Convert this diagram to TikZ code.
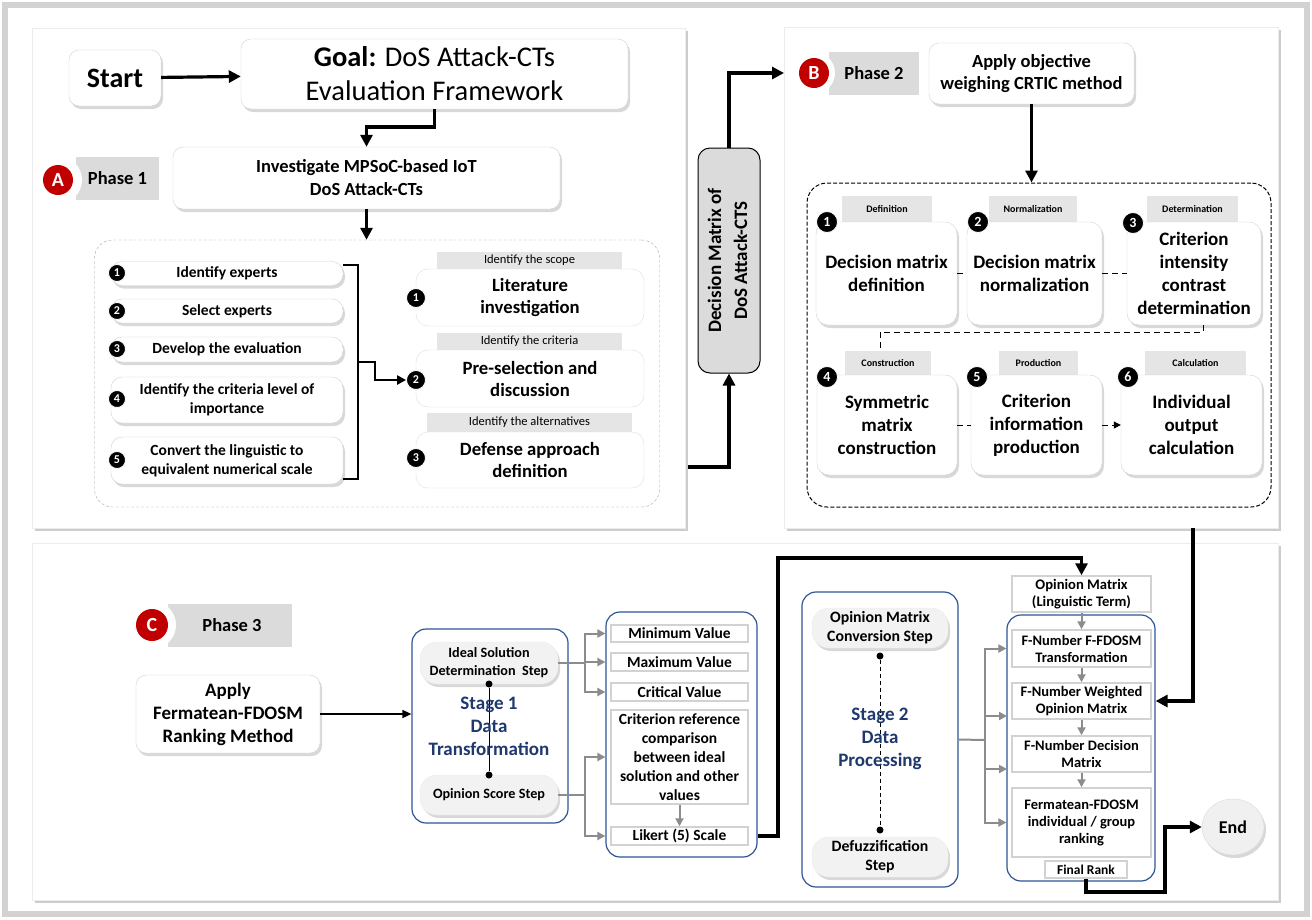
\documentclass[tikz,border=0pt]{standalone}
\usepackage{fontspec}
\setmainfont{Carlito}
\usetikzlibrary{arrows.meta,shadows,shapes.geometric}
\definecolor{redc}{RGB}{192,0,0}
\definecolor{bluec}{RGB}{47,85,151}
\definecolor{bluetxt}{RGB}{31,56,110}
\definecolor{arrgray}{RGB}{140,140,140}
\newcommand{\fsz}[2]{\fontsize{#1}{#2}\selectfont}
\begin{document}
\begin{tikzpicture}[x=1pt,y=-1pt,
  shd/.style={drop shadow={shadow xshift=2pt,shadow yshift=-3pt,opacity=0.3}},
  panel/.style={draw=gray!15,fill=white,inner sep=0,drop shadow={shadow xshift=3pt,shadow yshift=-3pt,opacity=0.4}},
  rbox/.style={draw=gray!35,fill=white,rounded corners=10pt,inner sep=0,align=center,shd},
  lbox/.style={draw=gray!25,fill=white,rounded corners=12pt,inner sep=0,align=center,font=\bfseries\fsz{18.7}{22},minimum width=228,minimum height=57},
  pill/.style={draw=gray!35,fill=white,rounded corners=11pt,inner sep=0,align=center,shd,minimum width=232,font=\bfseries\fsz{15.5}{19}},
  tabA/.style={fill=gray!20,inner sep=0,font=\fsz{12.5}{13}},
  tabB/.style={fill=gray!20,inner sep=0,font=\bfseries\fsz{10}{11}},
  phtab/.style={fill=gray!28,inner sep=0,font=\bfseries\fsz{18.5}{20}},
  redcirc/.style={circle,fill=redc,text=white,inner sep=0,minimum size=30,font=\bfseries\fsz{20}{20}},
  numa/.style={circle,fill=black,draw=white,line width=0.8,text=white,inner sep=0,minimum size=#1,font=\bfseries\fsz{12}{12}},
  cbox/.style={draw=gray!35,fill=white,rounded corners=12pt,inner sep=0,align=center,shd,font=\bfseries\fsz{19}{23}},
  bluebx/.style={draw=bluec,line width=1.2,rounded corners=14pt,fill=white,inner sep=0},
  spill/.style={fill=gray!10,draw=gray!15,rounded corners=17pt,inner sep=0,align=center,shd},
  vbox/.style={draw=gray!35,line width=1.5,fill=white,inner sep=0,align=center,font=\bfseries\fsz{15.5}{19}},
  stg/.style={font=\bfseries\fsz{19}{23},text=bluetxt,align=center,inner sep=0},
  dotn/.style={circle,fill=black,inner sep=0,minimum size=7},
  thk/.style={line width=3.2,-{Triangle[length=12pt,width=12pt]}},
  brk/.style={line width=2},
  garr/.style={draw=arrgray,line width=2,-{Triangle[length=8pt,width=8pt]}},
  gln/.style={draw=arrgray,line width=2},
  dsh/.style={dashed,line width=1,dash pattern=on 6pt off 4pt}
]
% background and outer frame
\fill[white] (0,0) rectangle (1312,919);
\draw[gray!35,line width=6] (5,5) rectangle (1307,914);
\useasboundingbox (0,0) rectangle (1312,919);

% panels
\node[panel,minimum width=653,minimum height=500] (pA) at (358.5,278) {};
\node[panel,minimum width=494,minimum height=501] (pB) at (1031,277.5) {};
\node[panel,minimum width=1246,minimum height=357] (pC) at (655,721.5) {};

% ---------------- Phase 1 ----------------
\node[rbox,minimum width=92,minimum height=56,font=\bfseries\fsz{28}{30}] (start) at (115,78) {Start};
\node[rbox,minimum width=387,minimum height=70,font=\fsz{28.5}{34}] (goal) at (434.5,74) {\textbf{Goal:} DoS Attack-CTs\\Evaluation Framework};
\draw[thk] (start) -- (goal);
\node[rbox,minimum width=387,minimum height=62,font=\bfseries\fsz{18.5}{23}] (inv) at (366.5,178) {Investigate MPSoC-based IoT\\DoS Attack-CTs};
\coordinate (gk) at (366.5,127);
\draw[thk] (goal.south) |- (gk) -- (inv.north);

\node[phtab,minimum width=83,minimum height=43] (tabA) at (117.5,178.5) {Phase 1};
\fill[white] (58,180) circle (24);
\node[redcirc] (cA) at (58,180) {A};

\node[draw=gray!70,densely dashed,rounded corners=18pt,minimum width=565,minimum height=267,inner sep=0] (dcA) at (377,373.5) {};
\draw[thk] (inv.south) -- (inv.south |- dcA.north);

\node[pill,minimum height=24] (l1) at (227,273.5) {Identify experts};
\node[pill,minimum height=24] (l2) at (227,311) {Select experts};
\node[pill,minimum height=25] (l3) at (227,349.5) {Develop the evaluation};
\node[pill,minimum height=46] (l4) at (227,400) {Identify the criteria level of\\importance};
\node[pill,minimum height=47] (l5) at (227,460.5) {Convert the linguistic to\\equivalent numerical scale};
\node[numa=17] (n1) at (117,273) {1};
\node[numa=17] (n2) at (117,311) {2};
\node[numa=17] (n3) at (117,349) {3};
\node[numa=17] (n4) at (117,399) {4};
\node[numa=17] (n5) at (117,460) {5};

\coordinate (bt) at (358,265);
\coordinate (bb) at (358,479);
\coordinate (bm) at (358,362);
\coordinate (bk) at (375,362);
\draw[brk] (l1.east |- bt) -- (bt) -- (bb) -- (l5.east |- bb);

\node[tabA,minimum width=185,minimum height=17] (t1) at (529.5,260.5) {Identify the scope};
\node[lbox] (r1) at (530,297.5) {Literature\\investigation};
\node[tabA,minimum width=185,minimum height=17] (t2) at (529.5,341.5) {Identify the criteria};
\node[lbox] (r2) at (530,378.5) {Pre-selection and\\discussion};
\node[tabA,minimum width=205,minimum height=19] (t3) at (529.5,422.5) {Identify the alternatives};
\node[lbox,minimum height=56] (r3) at (530,460) {Defense approach\\definition};
\node[numa=19] (m1) at (416,298) {1};
\node[numa=19] (m2) at (416,380) {2};
\node[numa=19] (m3) at (416,458) {3};
\draw[line width=2.4,-{Triangle[length=9pt,width=9pt]}] (bm) -- (bk) |- (m2.west);

% Decision matrix box
\node[draw=black,line width=1,fill=gray!28,rounded corners=12pt,minimum width=62,minimum height=225,inner sep=0] (dm) at (729,260.5)
  {\rotatebox{90}{\bfseries\fsz{19}{26}\begin{tabular}{@{}c@{}}Decision Matrix of\\DoS Attack-CTS\end{tabular}}};
\coordinate (aout) at (688,467);
\coordinate (bin) at (784,73);
\draw[thk] (aout) -| (dm.south);
\draw[thk] (dm.north) |- (bin);

% ---------------- Phase 2 ----------------
\node[phtab,minimum width=90,minimum height=43] (tabB) at (874,73.5) {Phase 2};
\fill[white] (814,73) circle (21);
\node[redcirc] (cB) at (814,73) {B};
\node[rbox,minimum width=205,minimum height=61,font=\bfseries\fsz{18.5}{22}] (obj) at (1031.5,73.5) {Apply objective\\weighing CRTIC method};
\node[draw=black,line width=1,dash pattern=on 4pt off 2pt,rounded corners=20pt,minimum width=464,minimum height=324,inner sep=0] (dcB) at (1039,345) {};
\draw[thk] (obj.south) -- (obj.south |- dcB.north);

\node[tabB,minimum width=90,minimum height=26] (tb1) at (887,209) {Definition};
\node[tabB,minimum width=88,minimum height=26] (tb2) at (1033,209) {Normalization};
\node[tabB,minimum width=91,minimum height=26] (tb3) at (1192.5,209) {Determination};
\node[cbox,minimum width=141,minimum height=103] (b1) at (886.5,273.5) {Decision matrix\\definition};
\node[cbox,minimum width=135,minimum height=103] (b2) at (1034.5,273.5) {Decision matrix\\normalization};
\node[cbox,minimum width=134,minimum height=103] (b3) at (1194,273.5) {Criterion\\intensity\\contrast\\determination};
\node[tabB,minimum width=86,minimum height=24] (tb4) at (888,363) {Construction};
\node[tabB,minimum width=79,minimum height=24] (tb5) at (1038.5,363) {Production};
\node[tabB,minimum width=101,minimum height=24] (tb6) at (1195.5,363) {Calculation};
\node[cbox,minimum width=140,minimum height=100] (b4) at (887,425) {Symmetric\\matrix\\construction};
\node[cbox,minimum width=131,minimum height=100] (b5) at (1036.5,425) {Criterion\\information\\production};
\node[cbox,minimum width=141,minimum height=100] (b6) at (1191.5,425) {Individual\\output\\calculation};
\node[numa=21,font=\bfseries\fsz{14}{14}] (k1n) at (827,222) {1};
\node[numa=21,font=\bfseries\fsz{14}{14}] (k2n) at (978,222) {2};
\node[numa=21,font=\bfseries\fsz{14}{14}] (k3n) at (1133,223) {3};
\node[numa=21,font=\bfseries\fsz{14}{14}] (k4n) at (827,377) {4};
\node[numa=21,font=\bfseries\fsz{14}{14}] (k5n) at (977,377) {5};
\node[numa=21,font=\bfseries\fsz{14}{14}] (k6n) at (1128,377) {6};

\draw[dsh] (b1.east) -- (b2.west);
\draw[dsh] (b2.east) -- (b3.west);
\coordinate (q1) at (1203,332);
\coordinate (q2) at (880,332);
\draw[dsh] (b3.south -| q1) -- (q1) -- (q2) -- (q2 |- tb4.north);
\draw[dsh] (b4.east) -- (b5.west);
\draw[dsh,-{Triangle[length=7pt,width=7pt]}] (b5.east) -- (b6.west);

% ---------------- Phase 3 ----------------
\node[phtab,minimum width=124,minimum height=43] (tabC) at (230,625.5) {\hspace*{4pt}Phase 3};
\fill[white] (152,625) circle (24);
\node[redcirc,minimum size=32] (cC) at (152,625) {C};

\node[rbox,minimum width=184,minimum height=78,font=\bfseries\fsz{19}{23}] (fer) at (228,714) {Apply\\Fermatean-FDOSM\\Ranking Method};

% Stage 1
\node[bluebx,minimum width=156,minimum height=194] (s1) at (490,726) {};
\draw[line width=1.6,-{Triangle[length=9pt,width=8pt]}] (fer.east) -- (fer.east -| s1.west);
\node[spill,minimum width=138,minimum height=42,font=\bfseries\fsz{14.2}{18}] (is) at (489,663) {Ideal Solution\\Determination\ \ Step};
\node[spill,minimum width=138,minimum height=40,font=\bfseries\fsz{14.2}{18}] (os) at (489,795) {Opinion Score Step};
\node[dotn] (d1) at (489,684) {};
\node[dotn] (d2) at (489,775) {};
\draw[line width=0.8] (d1) -- (d2);
\node[stg] (st1) at (489,726) {Stage 1\\Data\\Transformation};

\node[bluebx,minimum width=151,minimum height=245] (v1) at (681.5,734.5) {};
\node[vbox,minimum width=137,minimum height=17] (vmin) at (679.5,633.5) {Minimum Value};
\node[vbox,minimum width=137,minimum height=18] (vmax) at (679.5,662) {Maximum Value};
\node[vbox,minimum width=137,minimum height=18] (vcrit) at (679.5,692) {Critical Value};
\node[vbox,minimum width=137,minimum height=94] (vref) at (679.5,757) {Criterion reference\\comparison\\between ideal\\solution and other\\values};
\node[vbox,minimum width=137,minimum height=18] (vlik) at (679.5,836) {Likert (5) Scale};
\draw[garr] (vref.south) -- (vlik.north);

\coordinate (g1) at (585,663);
\draw[gln] (is.east) -- (g1);
\draw[garr] (g1) |- (vmin.west -| v1.west);
\draw[garr] (g1) |- (vmax.west -| v1.west);
\draw[garr] (g1) |- (vcrit.west -| v1.west);
\coordinate (g2) at (585,795);
\draw[gln] (os.east) -- (g2);
\draw[garr] (g2) |- (vref.west -| v1.west);
\draw[garr] (g2) |- (vlik.west -| v1.west);

% Stage 2
\node[bluebx,minimum width=156,minimum height=295] (s2) at (880,739.5) {};
\node[spill,minimum width=136,minimum height=40,font=\bfseries\fsz{15.8}{19}] (omc) at (880,628) {Opinion Matrix\\Conversion Step};
\node[spill,minimum width=136,minimum height=40,font=\bfseries\fsz{15.8}{19}] (dfz) at (880,857) {Defuzzification\\Step};
\node[dotn] (d3) at (880,656) {};
\node[dotn] (d4) at (880,830) {};
\draw[line width=0.8,dash pattern=on 4pt off 3pt] (d3) -- (d4);
\node[stg] (st2) at (880,739) {Stage 2\\Data\\Processing};

\node[vbox,minimum width=139,minimum height=36,font=\bfseries\fsz{14.6}{17}] (om) at (1081.5,594) {Opinion Matrix\\(Linguistic Term)};
\node[bluebx,minimum width=148,minimum height=266] (r2b) at (1081,748) {};
\node[vbox,minimum width=139,minimum height=37,font=\bfseries\fsz{14.5}{17}] (ft) at (1081.5,648.5) {F-Number F-FDOSM\\Transformation};
\node[vbox,minimum width=139,minimum height=36,font=\bfseries\fsz{14.5}{17}] (fw) at (1081.5,701) {F-Number Weighted\\Opinion Matrix};
\node[vbox,minimum width=139,minimum height=36,font=\bfseries\fsz{14.5}{17}] (fd) at (1081.5,754) {F-Number Decision\\Matrix};
\node[vbox,minimum width=139,minimum height=69,font=\bfseries\fsz{14.5}{17}] (fr) at (1081.5,822.5) {Fermatean-FDOSM\\individual / group\\ranking};
\node[vbox,minimum width=82,minimum height=17,font=\bfseries\fsz{13.5}{14}] (fin) at (1086,869.5) {Final Rank};
\draw[garr] (om.south) -- (ft.north);
\draw[garr] (ft.south) -- (fw.north);
\draw[garr] (fw.south) -- (fd.north);
\draw[garr] (fd.south) -- (fr.north);

\coordinate (g3) at (985,740);
\coordinate (a3) at (1007,716);
\coordinate (a4) at (1007,769);
\draw[gln] (s2.east) -- (g3);
\draw[garr] (g3) |- (ft.west -| r2b.west);
\draw[garr] (g3) |- (a3);
\draw[garr] (g3) |- (a4);
\draw[garr] (g3) |- (fr.west -| r2b.west);

\node[ellipse,fill=gray!12,draw=gray!30,minimum width=62,minimum height=56,inner sep=0,shd,font=\bfseries\fsz{18}{18}] (endn) at (1233,827) {End};

% thick connectors in phase 3
\coordinate (h1) at (778,558);
\draw[thk] (vlik.east -| v1.east) -| (h1) -| (om.north);
\coordinate (pbo) at (1193,528);
\draw[thk] (pbo) |- (fw.east -| r2b.east);
\coordinate (h2) at (1165,892);
\draw[thk] (fin.south) |- (h2) |- (endn.west);
\end{tikzpicture}
\end{document}
